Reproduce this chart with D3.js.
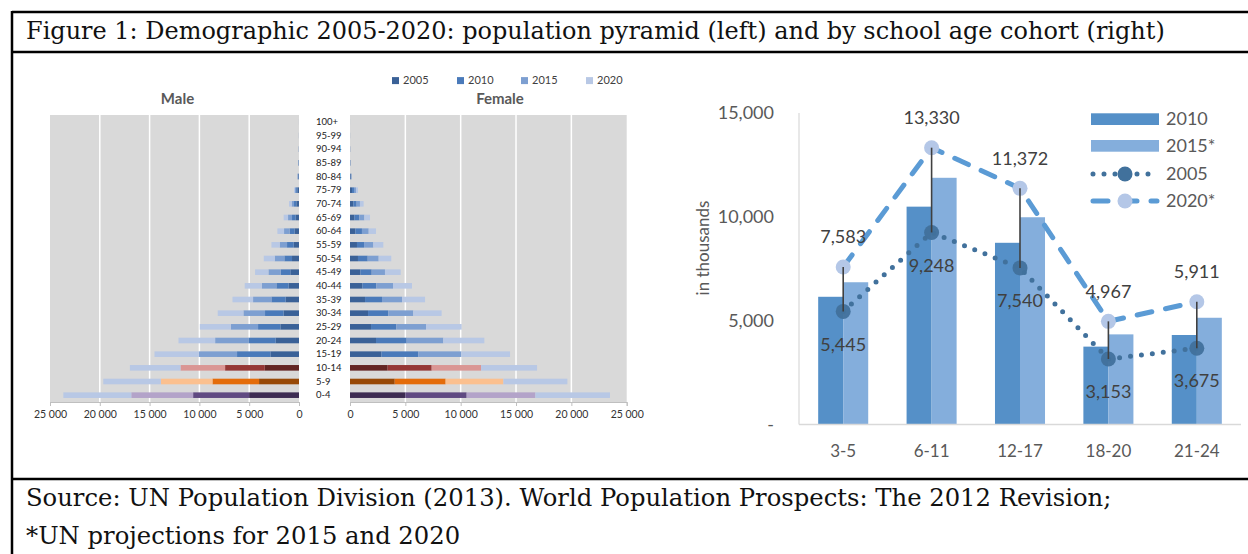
<!DOCTYPE html>
<html>
<head>
<meta charset="utf-8">
<script src="https://cdn.jsdelivr.net/npm/d3@7"></script>
<style>
  html, body { margin: 0; padding: 0; background: #fff; }
  svg { display: block; }
</style>
</head>
<body>
<svg id="fig" width="1248" height="554"></svg>
<script>
// ---- Population pyramid data (thousands), youngest group first ----
const ageGroups = ["0-4","5-9","10-14","15-19","20-24","25-29","30-34","35-39","40-44","45-49",
  "50-54","55-59","60-64","65-69","70-74","75-79","80-84","85-89","90-94","95-99","100+"];
const pyramidYears = ["2005","2010","2015","2020"];

const male2005 = [5010,4010,3440,2870,2340,1870,1540,1340,1040,870,700,530,430,330,270,170,60,30,10,3,1];
const male2010 = [5620,4680,3980,3350,2740,2240,1870,1430,1230,970,770,670,510,370,230,120,60,30,10,3,1];
const male2015 = [6210,5180,4480,3840,3340,2740,2170,1840,1470,1230,970,740,560,400,240,110,30,20,5,2,1];
const male2020 = [6820,5780,5080,4450,3680,3110,2580,2070,1710,1340,1100,830,670,440,260,100,20,10,5,2,1];

const female2005 = [5000,4040,3400,2830,2350,1900,1630,1360,1110,930,720,630,480,390,300,180,60,20,10,3,1];
const female2010 = [5540,4600,3980,3340,2770,2290,1830,1530,1270,1030,880,640,600,450,300,180,60,20,5,2,1];
const female2015 = [6210,5220,4460,3890,3310,2680,2260,1810,1510,1200,990,840,610,460,300,180,20,10,5,2,0];
const female2020 = [6740,5780,5060,4400,3710,3220,2560,2080,1710,1420,1140,900,660,510,330,180,10,5,3,1,0];

const pyramidTicks = [0, 5000, 10000, 15000, 20000, 25000];

// ---- School age cohort data (thousands) ----
const cohorts = ["3-5","6-11","12-17","18-20","21-24"];
const cohort2010 = [6150, 10490, 8750, 3750, 4310];
const cohort2015 = [6850, 11880, 9980, 4340, 5140];
const cohort2005 = [5445, 9248, 7540, 3153, 3675];
const cohort2020 = [7583, 13330, 11372, 4967, 5911];
const cohortTicks = [0, 5000, 10000, 15000];

const titleText = "Figure 1: Demographic 2005-2020: population pyramid (left) and by school age cohort (right)";
const sourceLines = [
  "Source: UN Population Division (2013). World Population Prospects: The 2012 Revision;",
  "*UN projections for 2015 and 2020"
];

// ---- Palettes ----
const bluePalette = ["#3a6197", "#4a7aba", "#7d9fd1", "#b8c8e5"];
const rowPalettes = {
  "0-4":   ["#3d2c52", "#604a82", "#b3a3c9", "#b8c8e5"],
  "5-9":   ["#984907", "#e46c0a", "#fbc08f", "#b8c8e5"],
  "10-14": ["#632523", "#953735", "#da9694", "#b8c8e5"]
};
const sansFont = "Lato, 'Open Sans', 'Liberation Sans', sans-serif";
const serifFont = "'DejaVu Serif', 'Liberation Serif', serif";

const svg = d3.select("#fig");

// ---- Frame ----
const frame = svg.append("g").attr("stroke", "#000").attr("stroke-width", 2.5);
frame.append("line").attr("x1", 12).attr("x2", 1248).attr("y1", 12).attr("y2", 12);
frame.append("line").attr("x1", 12).attr("x2", 1248).attr("y1", 52).attr("y2", 52);
frame.append("line").attr("x1", 12).attr("x2", 1248).attr("y1", 479).attr("y2", 479);
frame.append("line").attr("x1", 12).attr("x2", 12).attr("y1", 11).attr("y2", 554);

function fitText(sel, targetWidth, startSize) {
  let size = startSize;
  sel.attr("font-size", size);
  const w = sel.node().getComputedTextLength();
  if (w > 0) {
    size = size * targetWidth / w;
    sel.attr("font-size", size);
  }
  return size;
}

const title = svg.append("text")
  .attr("x", 26).attr("y", 38.5)
  .attr("font-family", serifFont).attr("fill", "#111")
  .text(titleText);
fitText(title, 1139, 22);

const src1 = svg.append("text").attr("x", 26).attr("y", 506)
  .attr("font-family", serifFont).attr("fill", "#111").text(sourceLines[0]);
const srcSize = fitText(src1, 1086, 21);
svg.append("text").attr("x", 26).attr("y", 544)
  .attr("font-family", serifFont).attr("fill", "#111")
  .attr("font-size", srcSize).text(sourceLines[1]);

// ---- Population pyramid ----
const plotTop = 115, plotBottom = 402;
const maleX = d3.scaleLinear().domain([0, 25000]).range([299, 50]);
const femaleX = d3.scaleLinear().domain([0, 25000]).range([350, 626.7]);
const yAge = d3.scaleBand().domain(ageGroups.slice().reverse()).range([plotTop, plotBottom]);
const barH = 5.6;

const spaceLocale = d3.formatLocale({ decimal: ".", thousands: " ", grouping: [3], currency: ["", ""] });
const fmtSpace = spaceLocale.format(",");

function rowsFrom(a, b, c, d) {
  return ageGroups.map((g, i) => ({ age: g, "2005": a[i], "2010": b[i], "2015": c[i], "2020": d[i] }));
}
const maleRows = rowsFrom(male2005, male2010, male2015, male2020);
const femaleRows = rowsFrom(female2005, female2010, female2015, female2020);
const stack = d3.stack().keys(pyramidYears);

function drawSide(rows, x, titleLabel, titleX) {
  const g = svg.append("g");
  const [x0, x1] = d3.extent(x.range());
  g.append("rect").attr("x", x0).attr("y", plotTop)
    .attr("width", x1 - x0).attr("height", plotBottom - plotTop).attr("fill", "#d9d9d9");
  g.selectAll("line.grid").data(pyramidTicks.slice(1, -1)).join("line")
    .attr("class", "grid")
    .attr("x1", d => x(d)).attr("x2", d => x(d))
    .attr("y1", plotTop).attr("y2", plotBottom)
    .attr("stroke", "#fff").attr("stroke-width", 1.5);

  const series = stack(rows);
  series.forEach((s, k) => {
    g.selectAll(null).data(s).join("rect")
      .attr("x", d => Math.min(x(d[0]), x(d[1])))
      .attr("width", d => Math.abs(x(d[1]) - x(d[0])))
      .attr("y", d => yAge(d.data.age) + yAge.bandwidth() / 2 - barH / 2)
      .attr("height", barH)
      .attr("fill", d => (rowPalettes[d.data.age] || bluePalette)[k]);
  });

  const axis = d3.axisBottom(x).tickValues(pyramidTicks).tickFormat(fmtSpace).tickSizeOuter(0).tickSize(4);
  const ag = g.append("g").attr("transform", `translate(0,${plotBottom})`).call(axis);
  ag.select(".domain").attr("stroke", "#bfbfbf");
  ag.selectAll(".tick line").attr("stroke", "#bfbfbf");
  ag.selectAll(".tick text").attr("font-family", sansFont).attr("font-size", 10.5)
    .attr("fill", "#333").attr("dy", "0.9em");

  g.append("text").attr("x", titleX).attr("y", 99).attr("dy", "0.35em")
    .attr("text-anchor", "middle").attr("font-family", sansFont)
    .attr("font-weight", "bold").attr("font-size", 15).attr("fill", "#595959")
    .text(titleLabel);
}
drawSide(maleRows, maleX, "Male", 177.5);
drawSide(femaleRows, femaleX, "Female", 500);

// age labels between the halves
svg.append("g").selectAll("text").data(ageGroups).join("text")
  .attr("x", 316).attr("y", d => yAge(d) + yAge.bandwidth() / 2).attr("dy", "0.35em")
  .attr("font-family", sansFont).attr("font-size", 9.5).attr("fill", "#222")
  .text(d => d);

// pyramid legend
const pyrLegendX = [392, 457, 521, 586];
const pl = svg.append("g").selectAll("g").data(pyramidYears).join("g")
  .attr("transform", (d, i) => `translate(${pyrLegendX[i]},80.6)`);
pl.append("rect").attr("x", 0).attr("y", -3.5).attr("width", 7).attr("height", 7)
  .attr("fill", (d, i) => bluePalette[i]);
pl.append("text").attr("x", 11).attr("dy", "0.35em")
  .attr("font-family", sansFont).attr("font-size", 11).attr("fill", "#404040").text(d => d);

// ---- School age cohort chart ----
const cx = d3.scaleBand().domain(cohorts).range([799, 1241]).paddingInner(0.434).paddingOuter(0.217);
const cx1 = d3.scaleBand().domain(["2010", "2015"]).range([0, cx.bandwidth()]);
const cy = d3.scaleLinear().domain([0, 15000]).range([424.5, 113]);
const mid = c => cx(c) + cx.bandwidth() / 2;
const fmtComma = d3.format(",");

const colBar2010 = "#5590c8", colBar2015 = "#84aedc";
const col2005 = "#41719c", col2020 = "#5b9bd5", col2020Marker = "#b4c7e7";

const rc = svg.append("g");
// axes lines
rc.append("line").attr("x1", 799).attr("x2", 799).attr("y1", cy(15000)).attr("y2", cy(0))
  .attr("stroke", "#d9d9d9").attr("stroke-width", 1.2);

const barData = [];
cohorts.forEach((c, i) => {
  barData.push({ c, key: "2010", v: cohort2010[i], fill: colBar2010 });
  barData.push({ c, key: "2015", v: cohort2015[i], fill: colBar2015 });
});
rc.selectAll("rect.bar").data(barData).join("rect")
  .attr("class", "bar")
  .attr("x", d => cx(d.c) + cx1(d.key)).attr("width", cx1.bandwidth())
  .attr("y", d => cy(d.v)).attr("height", d => cy(0) - cy(d.v))
  .attr("fill", d => d.fill);

rc.append("line").attr("x1", 799).attr("x2", 1241).attr("y1", cy(0)).attr("y2", cy(0))
  .attr("stroke", "#d9d9d9").attr("stroke-width", 1.5);

const yAxis = d3.axisLeft(cy).tickValues(cohortTicks).tickSize(0)
  .tickFormat(d => d === 0 ? "-" : fmtComma(d));
const yg = rc.append("g").attr("transform", "translate(774,0)").call(yAxis);
yg.select(".domain").remove();
yg.selectAll(".tick text").attr("font-family", sansFont).attr("font-size", 18).attr("fill", "#595959")
  .attr("x", 0);

const xAxis = d3.axisBottom(cx).tickSize(0);
const xg = rc.append("g").attr("transform", `translate(0,${cy(0)})`).call(xAxis);
xg.select(".domain").remove();
xg.selectAll(".tick text").attr("font-family", sansFont).attr("font-size", 17).attr("fill", "#595959")
  .attr("y", 27).attr("dy", "0.35em");

rc.append("text").attr("transform", "translate(703,248) rotate(-90)")
  .attr("text-anchor", "middle").attr("dy", "0.35em")
  .attr("font-family", sansFont).attr("font-size", 17).attr("fill", "#595959")
  .text("in thousands");

const line2005 = d3.line().x((d, i) => mid(cohorts[i])).y(d => cy(d));
rc.append("path").attr("d", line2005(cohort2005)).attr("fill", "none")
  .attr("stroke", col2005).attr("stroke-width", 5).attr("stroke-linecap", "round")
  .attr("stroke-dasharray", "0,11");
rc.append("path").attr("d", line2005(cohort2020)).attr("fill", "none")
  .attr("stroke", col2020).attr("stroke-width", 5).attr("stroke-linecap", "round")
  .attr("stroke-dasharray", "15,14");

rc.selectAll("circle.m2005").data(cohort2005).join("circle")
  .attr("cx", (d, i) => mid(cohorts[i])).attr("cy", d => cy(d)).attr("r", 7.5)
  .attr("fill", col2005).attr("fill-opacity", 0.95);
rc.selectAll("circle.m2020").data(cohort2020).join("circle")
  .attr("cx", (d, i) => mid(cohorts[i])).attr("cy", d => cy(d)).attr("r", 7.5)
  .attr("fill", col2020Marker);

// high-low connectors between 2005 and 2020
rc.selectAll("line.hl").data(cohorts).join("line")
  .attr("x1", mid).attr("x2", mid)
  .attr("y1", (c, i) => cy(cohort2005[i])).attr("y2", (c, i) => cy(cohort2020[i]))
  .attr("stroke", "#404040").attr("stroke-width", 1.6);

rc.selectAll("text.l2020").data(cohort2020).join("text")
  .attr("x", (d, i) => mid(cohorts[i])).attr("y", d => cy(d) - 30).attr("dy", "0.35em")
  .attr("text-anchor", "middle").attr("font-family", sansFont).attr("font-size", 18)
  .attr("fill", "#404040").text(d => fmtComma(d));
rc.selectAll("text.l2005").data(cohort2005).join("text")
  .attr("x", (d, i) => mid(cohorts[i])).attr("y", d => cy(d) + 33).attr("dy", "0.35em")
  .attr("text-anchor", "middle").attr("font-family", sansFont).attr("font-size", 18)
  .attr("fill", "#404040").text(d => fmtComma(d));

// legend
const lg = rc.append("g").attr("font-family", sansFont).attr("font-size", 18).attr("fill", "#595959");
lg.append("rect").attr("x", 1091).attr("y", 113.3).attr("width", 68).attr("height", 11.7).attr("fill", colBar2010);
lg.append("text").attr("x", 1166).attr("y", 119).attr("dy", "0.35em").text("2010");
lg.append("rect").attr("x", 1091).attr("y", 140).attr("width", 68).attr("height", 11.7).attr("fill", colBar2015);
lg.append("text").attr("x", 1166).attr("y", 145.7).attr("dy", "0.35em").text("2015*");
lg.append("line").attr("x1", 1093).attr("x2", 1157).attr("y1", 174).attr("y2", 174)
  .attr("stroke", col2005).attr("stroke-width", 5).attr("stroke-linecap", "round").attr("stroke-dasharray", "0,11");
lg.append("circle").attr("cx", 1125).attr("cy", 174).attr("r", 7.5).attr("fill", col2005);
lg.append("text").attr("x", 1166).attr("y", 174).attr("dy", "0.35em").text("2005");
lg.append("line").attr("x1", 1093).attr("x2", 1157).attr("y1", 201).attr("y2", 201)
  .attr("stroke", col2020).attr("stroke-width", 5).attr("stroke-linecap", "round").attr("stroke-dasharray", "15,14");
lg.append("circle").attr("cx", 1125).attr("cy", 201).attr("r", 7.5).attr("fill", col2020Marker);
lg.append("text").attr("x", 1166).attr("y", 201).attr("dy", "0.35em").text("2020*");
</script>
</body>
</html>
